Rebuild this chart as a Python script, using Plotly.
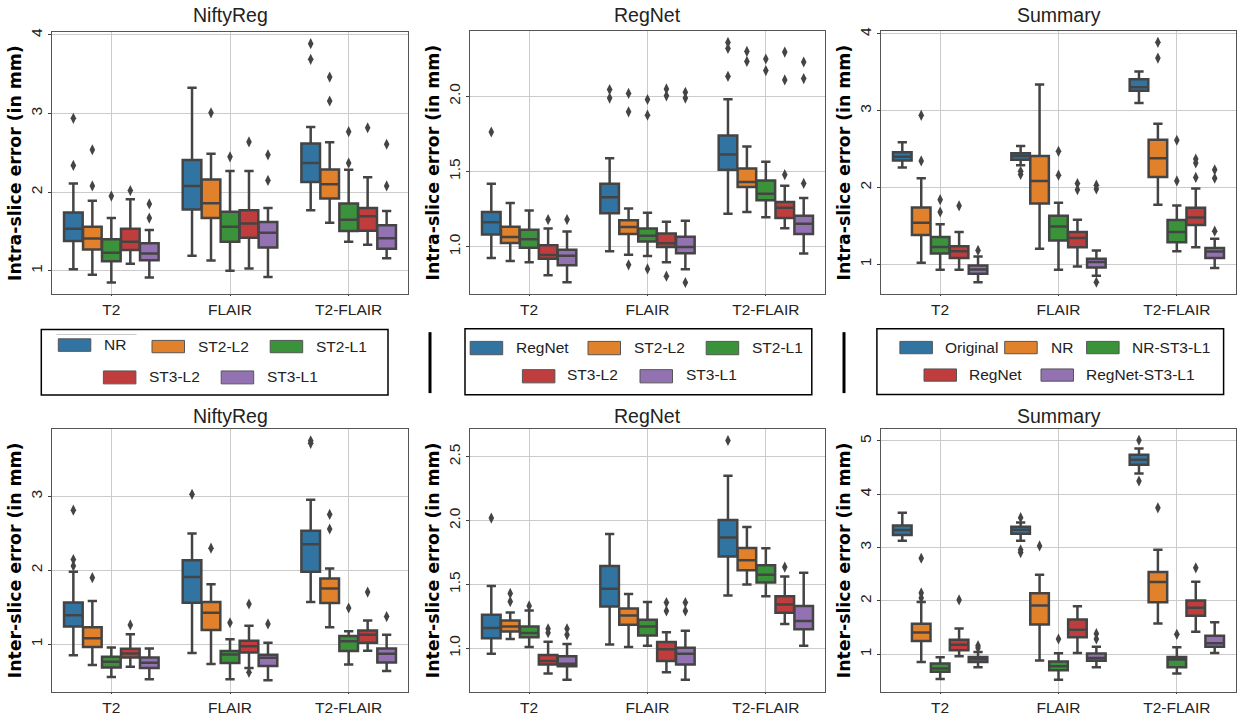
import plotly.graph_objects as go

W, H = 1242, 716

modalities = ["T2", "FLAIR", "T2-FLAIR"]
colors = ["#3274a1", "#e1812c", "#3a923a", "#c03d3e", "#9372b2"]
names_nifty = ["NR", "ST2-L2", "ST2-L1", "ST3-L2", "ST3-L1"]
names_regnet = ["RegNet", "ST2-L2", "ST2-L1", "ST3-L2", "ST3-L1"]
names_summary = ["Original", "NR", "NR-ST3-L1", "RegNet", "RegNet-ST3-L1"]

# every list below: one row per method, one value per modality (T2, FLAIR, T2-FLAIR)

# NiftyReg, intra-slice
ni_low = [[1.02, 1.19, 1.77], [0.95, 1.13, 1.61], [0.85, 1.00, 1.37], [1.09, 1.03, 1.33], [0.915, 0.92, 1.16]]
ni_q1 = [[1.38, 1.78, 2.13], [1.27, 1.67, 1.92], [1.12, 1.37, 1.505], [1.265, 1.42, 1.51], [1.135, 1.295, 1.28]]
ni_med = [[1.535, 2.08, 2.37], [1.41, 1.86, 2.10], [1.23, 1.56, 1.65], [1.37, 1.60, 1.695], [1.22, 1.485, 1.415]]
ni_q3 = [[1.74, 2.41, 2.62], [1.56, 2.16, 2.29], [1.40, 1.75, 1.855], [1.535, 1.77, 1.80], [1.35, 1.62, 1.58]]
ni_high = [[2.11, 3.33, 2.83], [1.89, 2.49, 2.635], [1.67, 2.27, 2.285], [1.91, 2.27, 2.19], [1.52, 1.80, 1.76]]
ni_out = [
    [[2.94, 2.34], [], [3.89, 3.69]],
    [[2.54, 2.08], [3.01], [3.465, 3.16]],
    [[1.95], [2.45], [2.77, 2.37]],
    [[2.02], [2.64], [2.82]],
    [[1.85, 1.67], [2.475, 2.15], [2.61, 2.08]],
]

# RegNet, intra-slice
ri_low = [[0.925, 0.97, 1.218], [0.905, 0.947, 1.231], [0.896, 0.938, 1.196], [0.81, 0.896, 1.123], [0.764, 0.85, 0.954]]
ri_q1 = [[1.08, 1.222, 1.511], [1.024, 1.084, 1.396], [0.993, 1.035, 1.308], [0.92, 0.998, 1.19], [0.877, 0.956, 1.084]]
ri_med = [[1.163, 1.328, 1.612], [1.064, 1.13, 1.43], [1.05, 1.073, 1.352], [0.945, 1.022, 1.258], [0.94, 0.998, 1.152]]
ri_q3 = [[1.23, 1.418, 1.738], [1.132, 1.176, 1.52], [1.112, 1.12, 1.44], [1.01, 1.088, 1.297], [0.98, 1.066, 1.205]]
ri_high = [[1.418, 1.588, 1.98], [1.29, 1.253, 1.665], [1.24, 1.225, 1.564], [1.12, 1.165, 1.405], [1.10, 1.172, 1.324]]
ri_out = [
    [[1.762], [2.044, 1.987], [2.357, 2.317, 2.132]],
    [[], [2.018, 1.896, 0.879], [2.297, 2.231]],
    [[], [1.978, 1.874, 0.852], [2.247, 2.17]],
    [[1.18], [2.048, 2.002, 0.804], [2.293, 2.108, 1.478]],
    [[1.18], [2.026, 1.987, 0.762], [2.227, 2.117, 1.42]],
]

# Summary, intra-slice
si_low = [[2.26, 2.29, 3.10], [1.02, 1.20, 1.774], [0.927, 0.927, 1.17], [0.927, 0.97, 1.22], [0.766, 0.85, 0.95]]
si_q1 = [[2.35, 2.36, 3.26], [1.38, 1.79, 2.137], [1.14, 1.31, 1.285], [1.08, 1.22, 1.51], [0.875, 0.957, 1.08]]
si_med = [[2.40, 2.41, 3.305], [1.54, 2.085, 2.38], [1.225, 1.49, 1.42], [1.17, 1.34, 1.61], [0.93, 1.03, 1.165]]
si_q3 = [[2.46, 2.445, 3.41], [1.74, 2.41, 2.62], [1.355, 1.63, 1.575], [1.235, 1.42, 1.735], [0.983, 1.07, 1.21]]
si_high = [[2.59, 2.54, 3.51], [2.12, 3.34, 2.83], [1.52, 1.80, 1.765], [1.42, 1.58, 1.985], [1.10, 1.18, 1.33]]
si_out = [
    [[], [2.21, 2.17], []],
    [[2.94, 2.345], [], [3.89, 3.685]],
    [[1.84, 1.68], [2.47, 2.16], [2.615, 2.085]],
    [[1.76], [2.05, 1.97], [2.37, 2.32, 2.13]],
    [[1.18], [2.03, 1.98, 0.766], [2.23, 2.12, 1.43]],
]

# NiftyReg, inter-slice
ne_low = [[0.85, 0.88, 1.57], [0.717, 0.73, 1.23], [0.555, 0.524, 0.726], [0.695, 0.676, 0.91], [0.524, 0.51, 0.636]]
ne_q1 = [[1.24, 1.56, 1.98], [0.96, 1.19, 1.557], [0.685, 0.744, 0.906], [0.82, 0.888, 1.018], [0.676, 0.703, 0.753]]
ne_med = [[1.39, 1.91, 2.353], [1.08, 1.427, 1.755], [0.76, 0.86, 1.04], [0.874, 0.97, 1.126], [0.748, 0.816, 0.87]]
ne_q3 = [[1.565, 2.137, 2.537], [1.23, 1.57, 1.89], [0.83, 0.906, 1.11], [0.937, 1.045, 1.184], [0.82, 0.856, 0.94]]
ne_high = [[1.98, 2.50, 2.955], [1.584, 1.813, 2.025], [0.955, 1.067, 1.175], [1.135, 1.25, 1.32], [0.94, 1.02, 1.126]]
ne_out = [
    [[2.815, 2.146, 2.06], [3.03], [3.755, 3.72]],
    [[1.90], [2.30], [2.757, 2.56]],
    [[], [1.29], [1.49]],
    [[1.26], [1.544, 0.618], [1.706]],
    [[], [1.274], [1.373]],
]

# RegNet, inter-slice
re_low = [[0.958, 1.029, 1.413], [1.073, 1.01, 1.50], [1.01, 1.02, 1.407], [0.803, 0.813, 1.19], [0.753, 0.753, 1.02]]
re_q1 = [[1.078, 1.327, 1.719], [1.132, 1.184, 1.612], [1.086, 1.10, 1.516], [0.873, 0.90, 1.278], [0.86, 0.873, 1.15]]
re_med = [[1.16, 1.467, 1.867], [1.17, 1.257, 1.69], [1.12, 1.17, 1.576], [0.90, 0.992, 1.343], [0.88, 0.958, 1.213]]
re_q3 = [[1.262, 1.644, 2.004], [1.218, 1.311, 1.786], [1.17, 1.223, 1.651], [0.948, 1.05, 1.407], [0.938, 1.005, 1.332]]
re_high = [[1.488, 1.895, 2.35], [1.28, 1.426, 1.95], [1.296, 1.363, 1.784], [1.052, 1.125, 1.563], [1.034, 1.138, 1.592]]
re_out = [
    [[2.02], [], [2.627]],
    [[1.43, 1.366], [], []],
    [[1.332], [], []],
    [[1.153, 1.122], [1.358, 1.293], [1.636]],
    [[1.153, 1.106], [1.358, 1.293], []],
]

# Summary, inter-slice
se_low = [[3.13, 3.13, 4.39], [0.857, 0.882, 1.578], [0.534, 0.522, 0.64], [0.963, 1.025, 1.42], [0.758, 0.758, 1.025]]
se_q1 = [[3.236, 3.26, 4.553], [1.248, 1.559, 1.975], [0.67, 0.70, 0.758], [1.075, 1.317, 1.72], [0.857, 0.876, 1.143]]
se_med = [[3.33, 3.335, 4.646], [1.41, 1.913, 2.354], [0.733, 0.776, 0.90], [1.18, 1.46, 1.87], [0.907, 0.932, 1.205]]
se_q3 = [[3.416, 3.39, 4.739], [1.571, 2.143, 2.54], [0.826, 0.863, 0.95], [1.273, 1.652, 2.006], [0.95, 1.012, 1.348]]
se_high = [[3.652, 3.472, 4.857], [1.98, 2.49, 2.957], [0.944, 1.019, 1.13], [1.484, 1.90, 2.36], [1.043, 1.143, 1.60]]
se_out = [
    [[], [3.56, 2.957, 2.907], [5.012, 4.248]],
    [[2.80, 2.15, 2.056], [3.03], [3.745]],
    [[], [1.286], [1.373]],
    [[2.019], [], [2.62]],
    [[1.16, 1.118], [1.385, 1.286], []],
]

TICK_COLOR = "#3c3c3c"
LINE_COLOR = "#444444"
GRID_COLOR = "#cbcbcb"
FONT = "Liberation Sans"

# panels: title, ylabel, pixel box (left, right, top, bottom), y range, y ticks
panels = [
    ("NiftyReg", "Intra-slice error (in mm)", (52, 408, 28, 292), (0.70, 4.04), [1, 2, 3, 4], names_nifty,
     (ni_low, ni_q1, ni_med, ni_q3, ni_high, ni_out)),
    ("RegNet", "Intra-slice error (in mm)", (470, 825, 27, 292), (0.683, 2.434), [1.0, 1.5, 2.0], names_regnet,
     (ri_low, ri_q1, ri_med, ri_q3, ri_high, ri_out)),
    ("Summary", "Intra-slice error (in mm)", (881, 1236, 27, 292), (0.607, 4.04), [1, 2, 3, 4], names_summary,
     (si_low, si_q1, si_med, si_q3, si_high, si_out)),
    ("NiftyReg", "Inter-slice error (in mm)", (52, 408, 427, 692), (0.35, 3.92), [1, 2, 3], names_nifty,
     (ne_low, ne_q1, ne_med, ne_q3, ne_high, ne_out)),
    ("RegNet", "Inter-slice error (in mm)", (470, 825, 427, 692), (0.657, 2.72), [1.0, 1.5, 2.0, 2.5], names_regnet,
     (re_low, re_q1, re_med, re_q3, re_high, re_out)),
    ("Summary", "Inter-slice error (in mm)", (881, 1236, 427, 692), (0.29, 5.23), [1, 2, 3, 4, 5], names_summary,
     (se_low, se_q1, se_med, se_q3, se_high, se_out)),
]

HUE_STEP = 0.16
BOX_WIDTH = 0.157


def px_x(v):
    return v / W


def px_y(v):
    return 1 - v / H


fig = go.Figure()
layout_axes = {}
annotations = []
shapes = []

for p, (title, ylabel, box, yrange, yticks, names, stats) in enumerate(panels):
    low, q1, med, q3, high, out = stats
    n = "" if p == 0 else str(p + 1)
    xref, yref = f"x{n}", f"y{n}"

    for h, name in enumerate(names):
        xs = [m + (h - 2) * HUE_STEP for m in range(len(modalities))]
        fig.add_trace(go.Box(
            x=xs, q1=q1[h], median=med[h], q3=q3[h], lowerfence=low[h], upperfence=high[h],
            name=name, width=BOX_WIDTH, whiskerwidth=0.5, boxpoints=False,
            fillcolor=colors[h], line=dict(color=LINE_COLOR, width=2.5),
            xaxis=xref, yaxis=yref, showlegend=False,
        ))
        out_x = [xs[m] for m in range(len(modalities)) for _ in out[h][m]]
        out_y = [v for m in range(len(modalities)) for v in out[h][m]]
        fig.add_trace(go.Scatter(
            x=out_x, y=out_y, mode="markers", name=name,
            marker=dict(symbol="diamond-tall", size=8, color=LINE_COLOR),
            xaxis=xref, yaxis=yref, showlegend=False,
        ))

    left, right, top, bottom = box
    layout_axes[f"xaxis{n}"] = dict(
        domain=[px_x(left), px_x(right)], range=[-0.5, 2.5], anchor=yref,
        tickmode="array", tickvals=[0, 1, 2], ticktext=modalities,
        ticks="outside", ticklen=1, tickcolor=TICK_COLOR,
        tickfont=dict(family=FONT, size=15.5, color="#222222"),
        showgrid=True, gridcolor=GRID_COLOR, gridwidth=1, zeroline=False,
        showline=True, mirror=True, linecolor="#555555", linewidth=1.2,
    )
    layout_axes[f"yaxis{n}"] = dict(
        domain=[px_y(bottom), px_y(top)], range=list(yrange), anchor=xref,
        tickmode="array", tickvals=yticks, tickformat=".1f" if isinstance(yticks[0], float) else "d",
        tickangle=-90, ticks="outside", ticklen=3, tickcolor=TICK_COLOR,
        tickfont=dict(family=FONT, size=15.5, color="#222222"),
        showgrid=True, gridcolor=GRID_COLOR, gridwidth=1, zeroline=False,
        showline=True, mirror=True, linecolor="#555555", linewidth=1.2,
        title=dict(text=f"<b>{ylabel}</b>", standoff=1,
                   font=dict(family="DejaVu Sans", size=17.3, color="#000000")),
    )
    annotations.append(dict(
        text=title, xref="paper", yref="paper", x=px_x((left + right) / 2), y=px_y(11 if top < 100 else 414),
        showarrow=False, xanchor="center", yanchor="middle",
        font=dict(family=FONT, size=19.5, color="#222222"),
    ))


def add_legend_frame(x0, x1, y0, y1):
    shapes.append(dict(type="rect", xref="paper", yref="paper", x0=px_x(x0), x1=px_x(x1), y0=px_y(y0), y1=px_y(y1),
                       line=dict(color="#000000", width=1.5), fillcolor="rgba(0,0,0,0)"))


def add_legend_item(label, color, x0, y0, y1, text_x, text_y):
    shapes.append(dict(type="rect", xref="paper", yref="paper", x0=px_x(x0), x1=px_x(x0 + 32.5),
                       y0=px_y(y0), y1=px_y(y1), line=dict(color="#555555", width=1), fillcolor=color))
    annotations.append(dict(text=label, xref="paper", yref="paper", x=px_x(text_x - 2), y=px_y(text_y - 1),
                            showarrow=False, xanchor="left", yanchor="middle",
                            font=dict(family=FONT, size=15.5, color="#222222")))


# legend boxes sit between the two rows of panels
add_legend_frame(41.3, 388, 327.3, 393.3)
add_legend_frame(465, 811.8, 326.7, 393)
add_legend_frame(876.9, 1223.6, 326.7, 392.7)

add_legend_item(names_nifty[0], colors[0], 58.3, 336.7, 349.3, 103.8, 343)
add_legend_item(names_nifty[1], colors[1], 152, 338.3, 350.7, 197.5, 345)
add_legend_item(names_nifty[2], colors[2], 270.2, 338.3, 350.7, 315.7, 345)
add_legend_item(names_nifty[3], colors[3], 103.4, 369, 382, 148.5, 375.7)
add_legend_item(names_nifty[4], colors[4], 221.2, 369, 382, 267, 375.7)
shapes.append(dict(type="line", xref="paper", yref="paper", x0=px_x(56.4), x1=px_x(136.6), y0=px_y(332.3), y1=px_y(332.3),
                   line=dict(color="#c8c8c8", width=1)))

add_legend_item(names_regnet[0], colors[0], 470.2, 339.3, 352.7, 516.4, 346)
add_legend_item(names_regnet[1], colors[1], 588, 339.3, 352.7, 633.8, 346)
add_legend_item(names_regnet[2], colors[2], 706.2, 339.3, 352.7, 751.7, 346)
add_legend_item(names_regnet[3], colors[3], 522.4, 367.7, 381, 567.4, 374)
add_legend_item(names_regnet[4], colors[4], 640, 367.7, 381, 686, 374)

add_legend_item(names_summary[0], colors[0], 899.9, 339.3, 351.7, 944.6, 346)
add_legend_item(names_summary[1], colors[1], 1004.7, 339.3, 351.7, 1050.6, 346)
add_legend_item(names_summary[2], colors[2], 1086.6, 339.3, 351.7, 1132.2, 346)
add_legend_item(names_summary[3], colors[3], 924, 367, 379.3, 969, 373.3)
add_legend_item(names_summary[4], colors[4], 1041, 367, 379.3, 1086, 373.3)

# thick separators between the legends
for sep_x in (430, 844):
    shapes.append(dict(type="line", xref="paper", yref="paper", x0=px_x(sep_x), x1=px_x(sep_x), y0=px_y(330), y1=px_y(391.3),
                       line=dict(color="#000000", width=3)))

fig.update_layout(
    width=W, height=H,
    margin=dict(l=0, r=0, t=0, b=0),
    paper_bgcolor="white", plot_bgcolor="white",
    boxmode="overlay", showlegend=False,
    annotations=annotations, shapes=shapes,
    **layout_axes,
)

fig.write_html("out.html", config={"displayModeBar": False}, post_script="document.body.style.margin='0';")
